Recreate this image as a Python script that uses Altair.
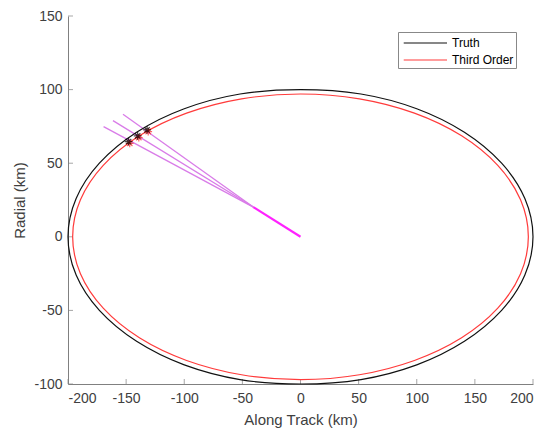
import altair as alt
import pandas as pd

# Ellipse outlines (every 15 degrees)
truth_x = [200, 193, 173, 141, 100, 52, 0, -52, -100, -141, -173, -193,
           -200, -193, -173, -141, -100, -52, 0, 52, 100, 141, 173, 193]
truth_y = [0, 26, 50, 71, 87, 97, 100, 97, 87, 71, 50, 26,
           0, -26, -50, -71, -87, -97, -100, -97, -87, -71, -50, -26]
third_x = [196, 189.3, 169.7, 138.6, 98, 50.7, 0, -50.7, -98, -138.6, -169.7, -189.3,
           -196, -189.3, -169.7, -138.6, -98, -50.7, 0, 50.7, 98, 138.6, 169.7, 189.3]
third_y = [0, 25.1, 48.5, 68.6, 84, 93.7, 97, 93.7, 84, 68.6, 48.5, 25.1,
           0, -25.1, -48.5, -68.6, -84, -93.7, -97, -93.7, -84, -68.6, -48.5, -25.1]

# Sight lines
outer_x = [-169.4, -161.3, -152.7]
outer_y = [74.8, 78.9, 83.2]
join_x = [-40.6]
join_y = [20.2]
origin_x = [0]
origin_y = [0]
star_x = [-147.9, -140.1, -132.0]
star_y = [64.6, 68.5, 72.6]
star3_x = [-146.9, -139.1, -131.0]
star3_y = [63.5, 67.4, 71.5]

x_ticks = [-200, -150, -100, -50, 0, 50, 100, 150, 200]
y_ticks = [-100, -50, 0, 50, 100, 150]

rows = []
for i, (x, y) in enumerate(zip(truth_x, truth_y)):
    rows.append({"x": x, "y": y, "i": i, "series": "Truth"})
for i, (x, y) in enumerate(zip(third_x, third_y)):
    rows.append({"x": x, "y": y, "i": i, "series": "Third Order"})
ell = pd.DataFrame(rows)

lrows = []
for k in range(3):
    lrows.append({"x": outer_x[k], "y": outer_y[k], "i": 0, "line": k})
    lrows.append({"x": join_x[0], "y": join_y[0], "i": 1, "line": k})
lines = pd.DataFrame(lrows)
inner = pd.DataFrame({"x": [join_x[0], origin_x[0]], "y": [join_y[0], origin_y[0]], "i": [0, 1]})
stars = pd.DataFrame({"x": star_x, "y": star_y})
stars3 = pd.DataFrame({"x": star3_x, "y": star3_y})

xs = alt.Scale(domain=[-200, 200], nice=False, zero=False)
ys = alt.Scale(domain=[-100, 150], nice=False, zero=False)

xax = alt.Axis(values=x_ticks, tickSize=0, grid=False, labelPadding=7,
               labelExpr="'' + datum.value",
               title="Along Track (km)", titlePadding=7)
yax = alt.Axis(values=y_ticks, tickSize=0, grid=False, labelPadding=6,
               labelExpr="'' + datum.value",
               title="Radial (km)", titlePadding=6)

ellipse = alt.Chart(ell).mark_line(interpolate="cardinal-closed", strokeWidth=1.2).encode(
    x=alt.X("x:Q", scale=xs, axis=xax),
    y=alt.Y("y:Q", scale=ys, axis=yax),
    detail="series:N",
    order="i:Q",
    color=alt.Color("series:N",
                    scale=alt.Scale(domain=["Truth", "Third Order"], range=["#111111", "#ff3b3b"]),
                    legend=alt.Legend(title=None, orient="none", legendX=330, legendY=16,
                                      symbolType="M-0.66,0L4.75,0", symbolSize=256, symbolStrokeWidth=1.2,
                                      labelFontSize=12, labelColor="#000000", labelFont="Liberation Sans",
                                      strokeColor="#888888", fillColor="#ffffff", padding=2,
                                      rowPadding=2, labelOffset=34)),
)

sight = alt.Chart(lines).mark_line(color="#d97ce8", strokeWidth=1.3).encode(
    x=alt.X("x:Q", scale=xs), y=alt.Y("y:Q", scale=ys), detail="line:N", order="i:Q")
sight_inner = alt.Chart(inner).mark_line(color="#ff22ff", strokeWidth=2.2).encode(
    x=alt.X("x:Q", scale=xs), y=alt.Y("y:Q", scale=ys), order="i:Q")

ast = "M-1,0L1,0M0,-1L0,1M-0.7,-0.7L0.7,0.7M-0.7,0.7L0.7,-0.7"
st3 = alt.Chart(stars3).mark_point(shape=ast, filled=False, color="#ff2020", size=60, strokeWidth=1.2).encode(
    x=alt.X("x:Q", scale=xs), y=alt.Y("y:Q", scale=ys))
st = alt.Chart(stars).mark_point(shape=ast, filled=False, color="#000000", size=60, strokeWidth=1.2).encode(
    x=alt.X("x:Q", scale=xs), y=alt.Y("y:Q", scale=ys))

xt = alt.Chart(pd.DataFrame({"t": x_ticks})).mark_tick(color="#808080", size=5, thickness=1).encode(
    x=alt.X("t:Q", scale=xs), y=alt.value(365.5))
yt = alt.Chart(pd.DataFrame({"t": y_ticks})).mark_tick(color="#808080", size=5, thickness=1, orient="horizontal").encode(
    y=alt.Y("t:Q", scale=ys), x=alt.value(2.5))

chart = alt.layer(xt, yt, sight, sight_inner, ellipse, st3, st).properties(
    width=465, height=368,
    background="#ffffff",
    autosize=alt.AutoSizeParams(type="none"),
    padding={"left": 68, "top": 16, "right": 16, "bottom": 49},
).configure_view(stroke=None).configure_axis(
    domainColor="#808080", domainWidth=1,
    labelFont="Liberation Sans", labelFontSize=14, labelColor="#404040",
    titleFont="Liberation Sans", titleFontSize=15, titleColor="#404040", titleFontWeight="normal",
)

chart.save("out.html", embed_options={"renderer": "svg", "actions": False})
